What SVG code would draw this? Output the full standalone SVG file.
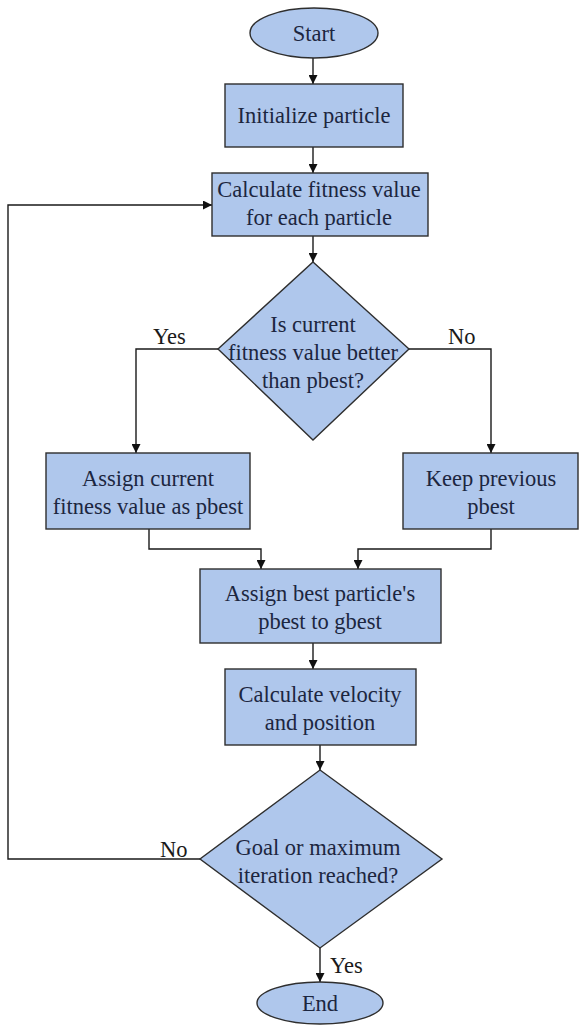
<svg xmlns="http://www.w3.org/2000/svg" width="579" height="1026" viewBox="0 0 579 1026">
<style>
.s{fill:#afc7ec;stroke:#2e2e2e;stroke-width:1.4}
.t{font-family:"Liberation Serif","Times New Roman",serif;font-size:22.5px;fill:#1c2640;text-anchor:middle}
.l{font-family:"Liberation Serif","Times New Roman",serif;font-size:22.5px;fill:#1a1a1a}
.c{fill:none;stroke:#1a1a1a;stroke-width:1.4}
</style>
<defs>
<marker id="a" viewBox="0 0 10 10" refX="10" refY="5" markerWidth="9" markerHeight="9" markerUnits="userSpaceOnUse" orient="auto">
<path d="M0,0 L10,5 L0,10 Z" fill="#111"/>
</marker>
</defs>
<rect width="579" height="1026" fill="#fff"/>
<g id="connectors">
<path class="c" d="M313,58 V84" marker-end="url(#a)"/>
<path class="c" d="M313,147 V173" marker-end="url(#a)"/>
<path class="c" d="M313,236 V262" marker-end="url(#a)"/>
<path class="c" d="M218,349 H136 V453" marker-end="url(#a)"/>
<path class="c" d="M409,349 H491 V453" marker-end="url(#a)"/>
<path class="c" d="M149,529 V549 H261 V569" marker-end="url(#a)"/>
<path class="c" d="M491,529 V549 H358 V569" marker-end="url(#a)"/>
<path class="c" d="M313,643 V669" marker-end="url(#a)"/>
<path class="c" d="M320,745 V770" marker-end="url(#a)"/>
<path class="c" d="M200,859 H8 V205 H212" marker-end="url(#a)"/>
<path class="c" d="M320,948 V982" marker-end="url(#a)"/>
<text class="l" x="153" y="344">Yes</text>
<text class="l" x="448" y="344">No</text>
<text class="l" x="160" y="857">No</text>
<text class="l" x="330" y="973">Yes</text>
</g>
<g id="start">
<ellipse class="s" cx="314" cy="33" rx="64" ry="25"/>
<text class="t" x="314" y="41">Start</text>
</g>
<g id="init">
<rect class="s" x="225" y="84" width="178" height="63"/>
<text class="t" x="314" y="123">Initialize particle</text>
</g>
<g id="fitness">
<rect class="s" x="212" y="173" width="216" height="63"/>
<text class="t" x="319" y="197">Calculate fitness value</text>
<text class="t" x="319" y="225">for each particle</text>
</g>
<g id="decision1">
<polygon class="s" points="313,262 409,349 313,440 218,349"/>
<text class="t" x="313" y="332">Is current</text>
<text class="t" x="313" y="360">fitness value better</text>
<text class="t" x="313" y="388">than pbest?</text>
</g>
<g id="assign-current">
<rect class="s" x="46" y="453" width="204" height="76"/>
<text class="t" x="148" y="486">Assign current</text>
<text class="t" x="148" y="514">fitness value as pbest</text>
</g>
<g id="keep-previous">
<rect class="s" x="403" y="453" width="175" height="76"/>
<text class="t" x="491" y="486">Keep previous</text>
<text class="t" x="491" y="514">pbest</text>
</g>
<g id="assign-best">
<rect class="s" x="200" y="569" width="241" height="74"/>
<text class="t" x="320" y="601">Assign best particle's</text>
<text class="t" x="320" y="629">pbest to gbest</text>
</g>
<g id="velocity">
<rect class="s" x="225" y="669" width="191" height="76"/>
<text class="t" x="320" y="702">Calculate velocity</text>
<text class="t" x="320" y="730">and position</text>
</g>
<g id="decision2">
<polygon class="s" points="320,770 442,859 320,948 200,859"/>
<text class="t" x="318" y="855">Goal or maximum</text>
<text class="t" x="318" y="883">iteration reached?</text>
</g>
<g id="end">
<ellipse class="s" cx="320" cy="1003" rx="63" ry="21"/>
<text class="t" x="320" y="1011">End</text>
</g>
</svg>
